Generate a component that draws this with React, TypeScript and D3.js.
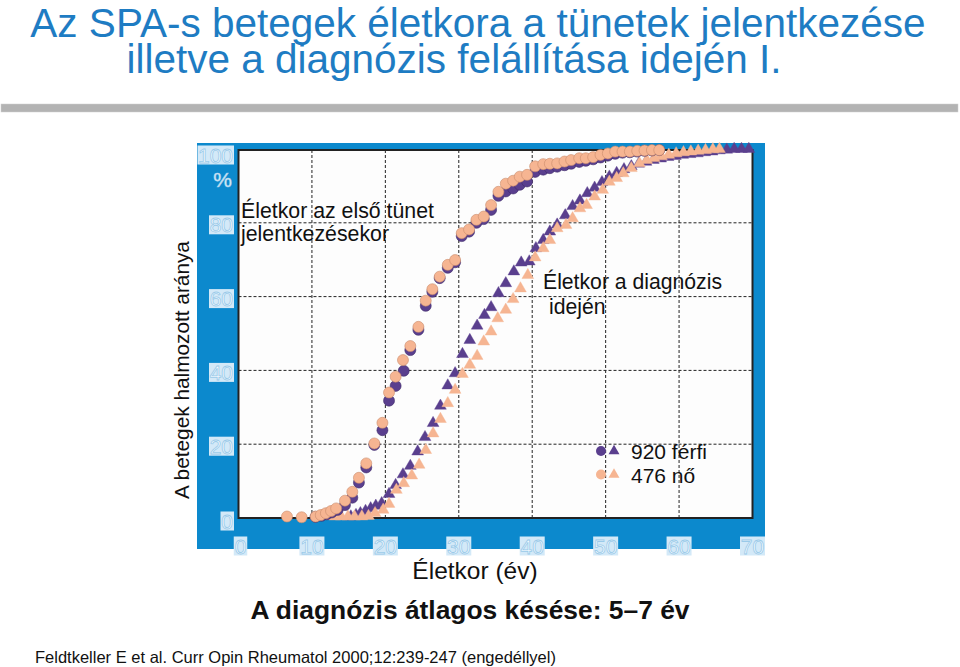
import React from "react";
import * as d3 from "d3";

// ---- data (age in years, cumulative %) ----
const onsetFemale: [number, number][] = [
  [6.6, 0.4], [8.6, 0.2], [10.5, 0.4], [11.2, 0.8], [11.9, 1.3], [12.6, 1.9], [13.3, 2.6], [14.5, 4.7],
  [15.5, 7.1], [16.4, 10.9], [17.4, 14.8], [18.5, 20.2], [19.6, 25.8], [20.5, 34], [21.4, 38.3],
  [22.4, 42.8], [23.4, 46.6], [24.5, 51.8], [25.5, 58.9], [26.4, 62], [27.4, 65.4], [28.5, 68.6],
  [29.5, 69.9], [30.4, 77.2], [31.4, 78.2], [32.4, 80.8], [33.4, 81.7], [34.4, 84.8], [35.4, 88.4],
  [36.4, 90.6], [37.4, 91.4], [38.3, 92.5], [39.3, 93.0], [40.4, 95.3], [41.5, 95.9], [42.4, 96.0],
  [43.4, 96.1], [44.4, 96.6], [45.3, 97.0], [46.4, 97.5], [47.3, 97.5], [48.3, 97.8], [49.3, 98.4],
  [50.3, 98.8], [51.3, 99.3], [52.3, 99.3], [53.3, 99.3], [54.3, 99.5], [55.3, 99.6], [56.3, 99.7], [57.3, 99.7],
];
const onsetMale: [number, number][] = [
  [10.5, 0.3], [11.3, 0.6], [12.0, 1.0], [12.7, 1.5], [13.5, 2.2], [14.5, 3.5], [15.5, 5.5], [16.4, 9.6],
  [17.4, 13.7], [18.5, 19.8], [19.6, 23.8], [20.5, 31.8], [21.4, 35.8], [22.5, 39.9], [23.4, 45.5],
  [24.5, 51], [25.5, 57.5], [26.4, 61.3], [27.4, 65], [28.5, 67.8], [29.5, 69.3], [30.4, 76.4],
  [31.4, 77.6], [32.4, 80], [33.4, 81], [34.4, 83.5], [35.4, 87.3], [36.4, 88.5], [37.4, 89.3],
  [38.3, 90.3], [39.3, 91.2], [40.4, 93.8], [41.5, 94.4], [42.4, 94.8], [43.4, 95.2], [44.4, 95.6],
  [45.3, 96.0], [46.4, 96.5], [47.3, 96.8], [48.3, 97.2], [49.3, 97.7], [50.3, 98.2], [51.3, 98.7],
  [52.3, 99], [53.3, 99.1], [54.3, 99.3], [55.3, 99.5], [56.3, 99.6], [57.3, 99.7],
];
const diagMale: [number, number][] = [
  [15.3, 0.4], [16.0, 0.8], [16.6, 1.3], [17.3, 1.9], [18.0, 2.6], [18.7, 3.3], [19.5, 4.0], [20.5, 6.5],
  [21.4, 8.9], [22.4, 11.8], [23.4, 14.1], [24.4, 18], [25.4, 21.9], [26.5, 25.7], [27.5, 30.4],
  [28.5, 35.9], [29.5, 39.2], [30.5, 44.4], [31.5, 48.2], [32.5, 52.1], [33.5, 55], [34.4, 57.1],
  [35.4, 60.9], [36.4, 63.6], [37.5, 66.8], [38.5, 69.2], [39.6, 69.5], [40.5, 73.1], [41.5, 75.3],
  [42.4, 77.6], [43.4, 79.5], [44.5, 82], [45.5, 84.5], [46.5, 86], [47.5, 88], [48.5, 89.5], [49.5, 91],
  [50.5, 92.5], [51.5, 93.5], [52.5, 94.5], [53.5, 95.3], [54.5, 96], [55.5, 96.5], [56.5, 97],
  [57.5, 97.4], [58.5, 97.8], [59.5, 98.1], [60.5, 98.4], [61.5, 98.6], [62.5, 98.8], [63.5, 99.1],
  [64.5, 99.3], [65.5, 99.6], [66.5, 99.8], [67.5, 100], [68.5, 100], [69.5, 100],
];
const diagFemale: [number, number][] = [
  [11.3, 0.5], [12.2, 0.5], [13.1, 0.4], [14.0, 0.4], [14.9, 0.4], [15.8, 0.4], [16.8, 0.4], [17.7, 0.5],
  [18.6, 1.3], [19.7, 2.2], [20.5, 3.8], [21.5, 7.6], [22.5, 9.4], [23.6, 11.5], [24.6, 14.4],
  [25.5, 18.4], [26.5, 22.9], [27.5, 26.8], [28.5, 31.1], [29.5, 34.7], [30.5, 39], [31.5, 41.5],
  [32.5, 43.9], [33.4, 47.8], [34.4, 50.5], [35.3, 54.1], [36.4, 56.4], [37.4, 59.3], [38.4, 62.2],
  [39.4, 65.8], [40.4, 70.6], [41.5, 73.1], [42.4, 75.3], [43.4, 78.5], [44.6, 79.4], [45.5, 81.2],
  [46.5, 83.9], [47.4, 84.8], [48.5, 87.1], [49.6, 88.9], [50.5, 91.1], [51.5, 92.1], [52.4, 93.4],
  [53.5, 94.8], [54.6, 96.1], [55.6, 97], [56.6, 97.5], [57.6, 98], [58.6, 98.4], [59.6, 98.8],
  [60.6, 99.1], [61.6, 99.3], [62.6, 99.5], [63.6, 99.7], [64.6, 99.9], [65.5, 100],
];
const xTicks = [0, 10, 20, 30, 40, 50, 60, 70];
const yTicks = [0, 20, 40, 60, 80, 100];
const legendItems = [
  { label: "920 férfi", sex: "male" },
  { label: "476 nő", sex: "female" },
];

const PURPLE = "#5a3f8e";
const PEACH = "#f6b592";
const BLUE = "#0c89cd";
const FONT = "'Liberation Sans', Arial, sans-serif";

export default function App() {
  const x = d3.scaleLinear().domain([0, 70]).range([238.5, 752.5]);
  const y = d3.scaleLinear().domain([0, 100]).range([518, 149]);
  const tri = d3.symbol().type(d3.symbolTriangle).size(60)() as string;
  const triSmall = d3.symbol().type(d3.symbolTriangle).size(52)() as string;

  const circles = (data: [number, number][], fill: string, stroke: string, key: string) =>
    data.map((d, i) => (
      <circle key={key + i} cx={x(d[0])} cy={y(d[1])} r={5.5} fill={fill} stroke={stroke} strokeWidth={0.6} />
    ));
  const triangles = (data: [number, number][], fill: string, key: string) =>
    data.map((d, i) => (
      <path key={key + i} d={tri} transform={`translate(${x(d[0])},${y(d[1])})`} fill={fill} stroke={fill} strokeWidth={0.4} />
    ));

  const tickLabel = (txt: string, cx: number, cy: number, anchor: "end" | "middle", key: string) => {
    const w = txt.length * 11.5 + 2;
    const bx = anchor === "end" ? cx - w : cx - w / 2;
    return (
      <g key={key}>
        <rect x={bx} y={cy - 9.5} width={w} height={19} fill="#d3e9f8" />
        <text x={anchor === "end" ? cx - 1 : cx} y={cy + 7.5} textAnchor={anchor} fontSize={21}
          fontFamily={FONT} fill="#f4faff" stroke="#9acae9" strokeWidth={0.8}>{txt}</text>
      </g>
    );
  };

  return (
    <svg width={960} height={667} style={{ position: "absolute", left: 0, top: 0, background: "#fff" }}>
      {/* title */}
      <text x={478} y={37} textAnchor="middle" fontSize={40.5} fontFamily={FONT} fill="#1e7cc3">
        Az SPA-s betegek életkora a tünetek jelentkezése
      </text>
      <text x={454} y={73} textAnchor="middle" fontSize={40.5} fontFamily={FONT} fill="#1e7cc3">
        illetve a diagnózis felállítása idején I.
      </text>
      <rect x={1} y={104} width={957} height={8} fill="#b3b3b3" stroke="#d0d0d0" strokeWidth={0.5} />

      {/* panel */}
      <rect x={197} y={143} width={568} height={406} fill={BLUE} />
      <rect x={x(0)} y={150} width={x(70) - x(0)} height={y(0) - 150} fill="#fdfdfd" />
      {/* grid */}
      {xTicks.filter((t) => t > 0 && t < 70).map((t) => (
        <line key={"gx" + t} x1={x(t)} x2={x(t)} y1={150} y2={y(0)} stroke="#222" strokeWidth={1} strokeDasharray="3,2" />
      ))}
      {yTicks.filter((t) => t > 0 && t < 100).map((t) => (
        <line key={"gy" + t} x1={x(0)} x2={x(70)} y1={y(t)} y2={y(t)} stroke="#222" strokeWidth={1} strokeDasharray="3,2" />
      ))}
      <rect x={x(0)} y={150} width={x(70) - x(0)} height={y(0) - 150} fill="none" stroke="#222" strokeWidth={2} />

      {/* tick labels */}
      {yTicks.map((t) => tickLabel(String(t), 234, y(t) + (t === 0 ? 3 : t === 100 ? 6 : 2), "end", "yl" + t))}
      <text x={232} y={187} textAnchor="end" fontSize={21} fontFamily={FONT} fill="#f4faff" stroke="#9acae9" strokeWidth={0.6}>%</text>
      {xTicks.map((t) => tickLabel(String(t), x(t) + (t === 0 ? 2 : 0), 546, "middle", "xl" + t))}

      {/* data */}
      {triangles(diagMale, PURPLE, "dm")}
      {triangles(diagFemale, PEACH, "df")}
      {circles(onsetMale, PURPLE, "#3e2a68", "om")}
      {circles(onsetFemale, PEACH, "#c98c6c", "of")}

      {/* annotations */}
      <text x={241} y={218} fontSize={21.3} fontFamily={FONT} fill="#111">Életkor az első tünet</text>
      <text x={241} y={241} fontSize={21.3} fontFamily={FONT} fill="#111">jelentkezésekor</text>
      <text x={543} y={289} fontSize={21.2} fontFamily={FONT} fill="#111">Életkor a diagnózis</text>
      <text x={549} y={314} fontSize={21.2} fontFamily={FONT} fill="#111">idején</text>

      {/* legend */}
      {legendItems.map((it, i) => {
        const cy = 451 + i * 23.5;
        const col = it.sex === "male" ? PURPLE : PEACH;
        return (
          <g key={"lg" + i}>
            <circle cx={601} cy={cy} r={5} fill={col} />
            <path d={triSmall} transform={`translate(${614},${cy})`} fill={col} />
            <text x={631} y={cy + 8} fontSize={21} fontFamily={FONT} fill="#111">{it.label}</text>
          </g>
        );
      })}

      {/* axis titles */}
      <text transform="translate(189,370) rotate(-90)" textAnchor="middle" fontSize={20.8} fontFamily={FONT} fill="#111">
        A betegek halmozott aránya
      </text>
      <text x={475} y={579} textAnchor="middle" fontSize={24.5} fontFamily={FONT} fill="#111">Életkor (év)</text>
      <text x={470} y={619} textAnchor="middle" fontSize={26.4} fontWeight="bold" fontFamily={FONT} fill="#111">
        A diagnózis átlagos késése: 5–7 év
      </text>
      <text x={35} y={663} fontSize={16.5} fontFamily={FONT} fill="#111">
        Feldtkeller E et al. Curr Opin Rheumatol 2000;12:239-247 (engedéllyel)
      </text>
    </svg>
  );
}
